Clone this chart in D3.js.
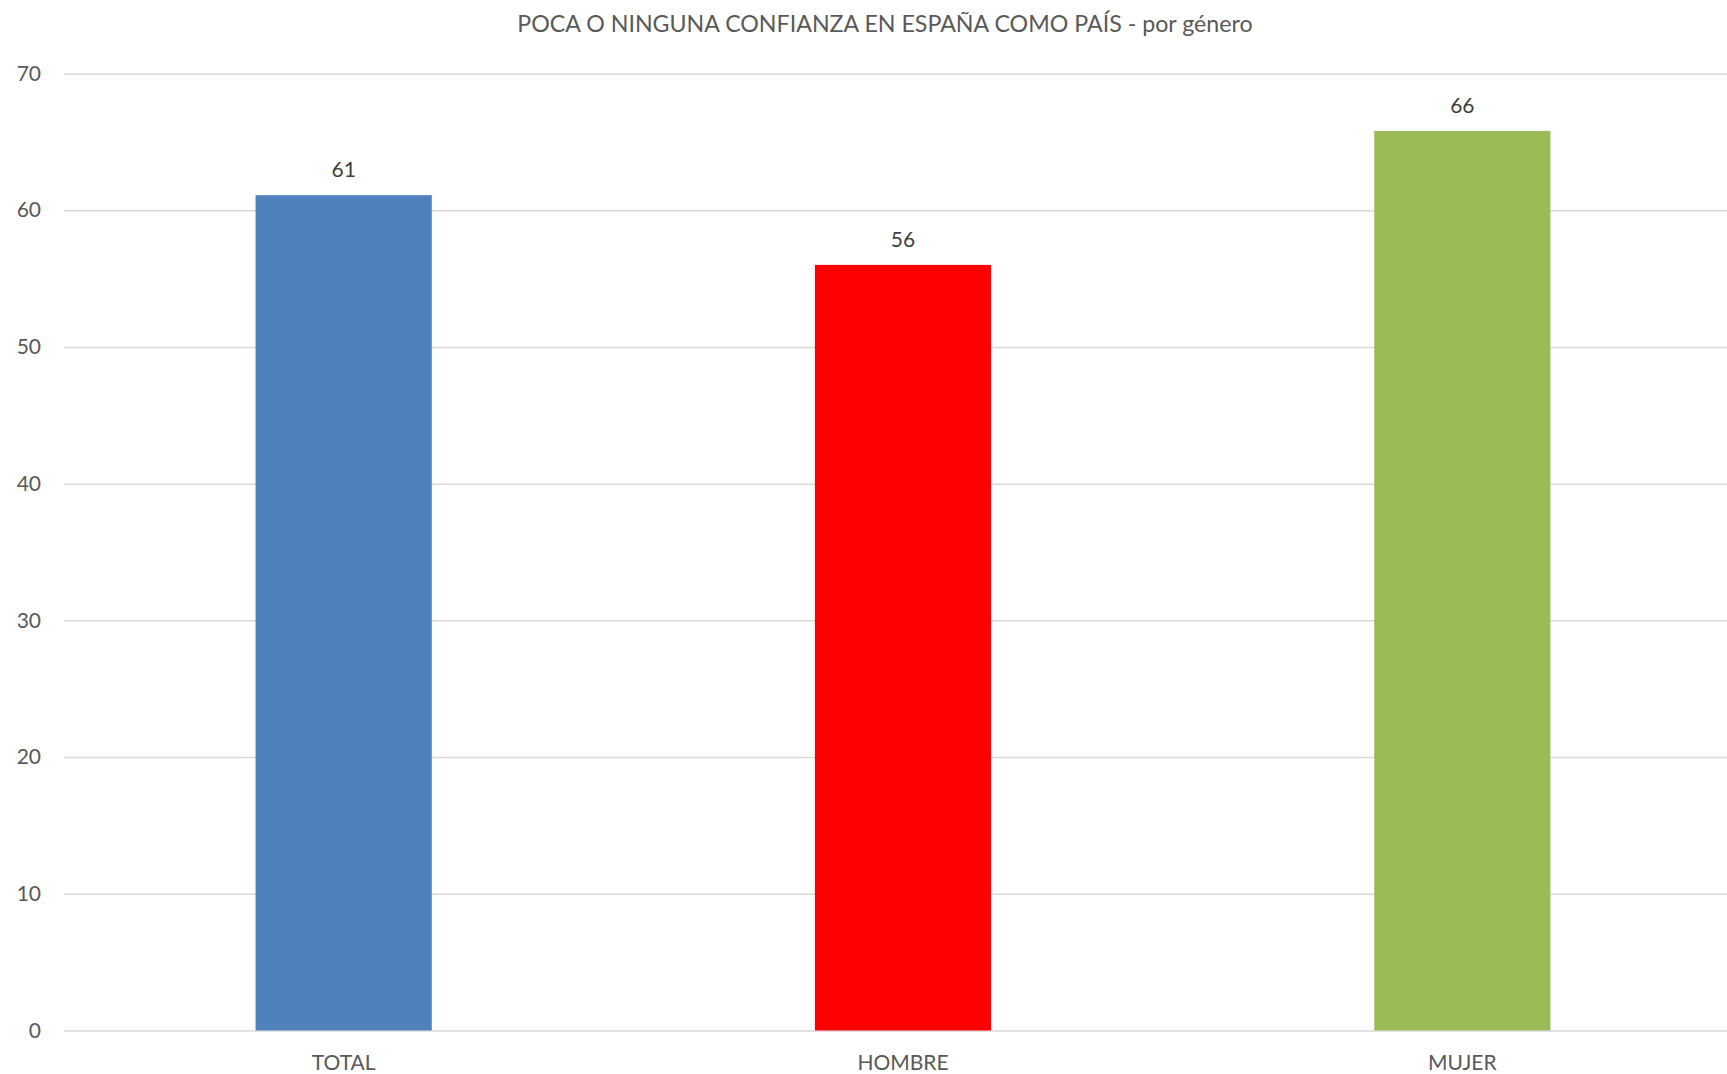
<!DOCTYPE html>
<html>
<head>
<meta charset="utf-8">
<script src="https://cdn.jsdelivr.net/npm/d3@7"></script>
<style>
  html, body { margin: 0; padding: 0; background: #fff; overflow: hidden; }
  svg { display: block; font-family: Lato, "Open Sans", sans-serif; }
</style>
</head>
<body>
<svg id="chart" width="1727" height="1074"></svg>
<script>
const title = "POCA O NINGUNA CONFIANZA EN ESPAÑA COMO PAÍS - por género";
const categories = ["TOTAL", "HOMBRE", "MUJER"];
const values = [61.1, 56, 65.8];
const labels = ["61", "56", "66"];
const colors = ["#4f81bd", "#ff0000", "#9bbb59"];
const yTicks = [0, 10, 20, 30, 40, 50, 60, 70];

const svg = d3.select("#chart");
const plotLeft = 64, plotRight = 1742, plotTop = 73.5, plotBottom = 1030.5;

const x = d3.scaleBand().domain(categories).range([plotLeft, plotRight])
  .paddingInner(0.685).paddingOuter(0.3425);
const y = d3.scaleLinear().domain([0, 70]).range([plotBottom, plotTop]);

// gridlines
const yAxis = d3.axisLeft(y).tickValues(yTicks).tickSize(-(plotRight - plotLeft)).tickPadding(23);
const gy = svg.append("g").attr("transform", `translate(${plotLeft},0)`).call(yAxis);
gy.select(".domain").remove();
gy.selectAll(".tick line").attr("stroke", "#d9d9d9").attr("stroke-width", 1.5);
gy.selectAll(".tick text").attr("fill", "#595959").attr("font-size", 21).attr("font-family", "Lato");

// bars
svg.append("g").selectAll("rect").data(categories).join("rect")
  .attr("x", d => x(d))
  .attr("width", x.bandwidth())
  .attr("y", (d, i) => y(values[i]))
  .attr("height", (d, i) => y(0) - y(values[i]))
  .attr("fill", (d, i) => colors[i]);

// data labels
svg.append("g").selectAll("text").data(categories).join("text")
  .attr("x", d => x(d) + x.bandwidth() / 2)
  .attr("y", (d, i) => y(values[i]) - 18)
  .attr("text-anchor", "middle")
  .attr("fill", "#404040")
  .attr("font-size", 21)
  .text((d, i) => labels[i]);

// x axis labels
const xAxis = d3.axisBottom(x).tickSize(0).tickPadding(25);
const gx = svg.append("g").attr("transform", `translate(0,${plotBottom})`).call(xAxis);
gx.select(".domain").remove();
gx.selectAll(".tick text").attr("fill", "#595959").attr("font-size", 21).attr("font-family", "Lato");

// title
svg.append("text")
  .attr("x", 885)
  .attr("y", 32)
  .attr("text-anchor", "middle")
  .attr("fill", "#595959")
  .attr("font-size", 23.2)
  .text(title);
</script>
</body>
</html>
